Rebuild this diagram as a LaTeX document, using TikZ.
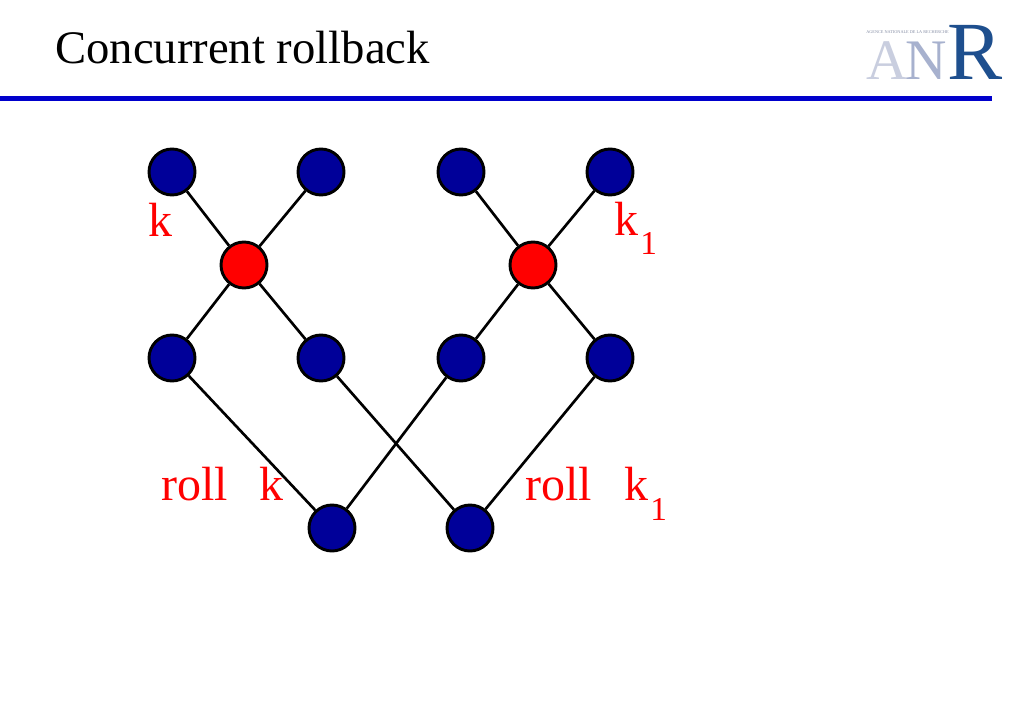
\documentclass[tikz,border=0pt]{standalone}
\usepackage{fontspec}
\setmainfont{Liberation Serif}
\begin{document}
\begin{tikzpicture}[x=0.75pt,y=-0.75pt,
  bnode/.style={circle,draw=black,line width=2.2pt,fill=nodeblue,minimum size=34.5pt,inner sep=0pt},
  rnode/.style={bnode,fill=red},
  edge/.style={draw=black,line width=2pt},
  lbl/.style={text=red,anchor=base west,inner sep=0pt,font=\fontsize{36pt}{40pt}\selectfont},
  sub/.style={text=red,anchor=base west,inner sep=0pt,font=\fontsize{25pt}{28pt}\selectfont}]
\definecolor{nodeblue}{HTML}{000099}
\definecolor{rulecol}{HTML}{0000CC}
\definecolor{anrA}{HTML}{C9CEDF}
\definecolor{anrN}{HTML}{A7B1CE}
\definecolor{anrR}{HTML}{1E4F8E}
\useasboundingbox (0,0) rectangle (1024,709);
\fill[white] (0,0) rectangle (1024,709);
% title
\node[anchor=base west,inner sep=0pt,font=\fontsize{35pt}{40pt}\selectfont] (title) at (55,64) {Concurrent rollback};
\fill[rulecol] (0,96) rectangle (992,101);
% logo
\node[anchor=base west,inner sep=0pt,text=anrA,font=\fontsize{43pt}{46pt}\selectfont] (logoA) at (866,80) {A};
\node[anchor=base west,inner sep=0pt,text=anrN,font=\fontsize{43pt}{46pt}\selectfont] (logoN) at (905,80) {N};
\node[anchor=base west,inner sep=0pt,text=anrR,font=\fontsize{62pt}{66pt}\selectfont] (logoR) at (947,80) {R};
\node[anchor=base west,inner sep=0pt,text=anrN!80!black,font=\fontsize{3.2pt}{4pt}\selectfont] (logotxt) at (866,34) {AGENCE NATIONALE DE LA RECHERCHE};
% nodes
\node[bnode] (t1) at (172,172) {};
\node[bnode] (t2) at (321,172) {};
\node[bnode] (t3) at (461,172) {};
\node[bnode] (t4) at (610,172) {};
\node[rnode] (r1) at (244,265) {};
\node[rnode] (r2) at (533,265) {};
\node[bnode] (m1) at (172,358) {};
\node[bnode] (m2) at (321,358) {};
\node[bnode] (m3) at (461,358) {};
\node[bnode] (m4) at (610,358) {};
\node[bnode] (b1) at (332,528) {};
\node[bnode] (b2) at (470,528) {};
% edges
\draw[edge] (t1) -- (r1);
\draw[edge] (t2) -- (r1);
\draw[edge] (r1) -- (m1);
\draw[edge] (r1) -- (m2);
\draw[edge] (t3) -- (r2);
\draw[edge] (t4) -- (r2);
\draw[edge] (r2) -- (m3);
\draw[edge] (r2) -- (m4);
\draw[edge] (m1) -- (b1);
\draw[edge] (m2) -- (b2);
\draw[edge] (m3) -- (b1);
\draw[edge] (m4) -- (b2);
% labels
\node[lbl] (lk) at (148,237) {k};
\node[lbl] (lk1) at (614,236) {k};
\node[sub] (lk1s) at (640,255) {1};
\node[lbl] (lroll1) at (161,500) {roll};
\node[lbl] (lrk) at (259,500) {k};
\node[lbl] (lroll2) at (525,500) {roll};
\node[lbl] (lrk1) at (624,500) {k};
\node[sub] (lrk1s) at (650,520) {1};
\end{tikzpicture}
\end{document}
